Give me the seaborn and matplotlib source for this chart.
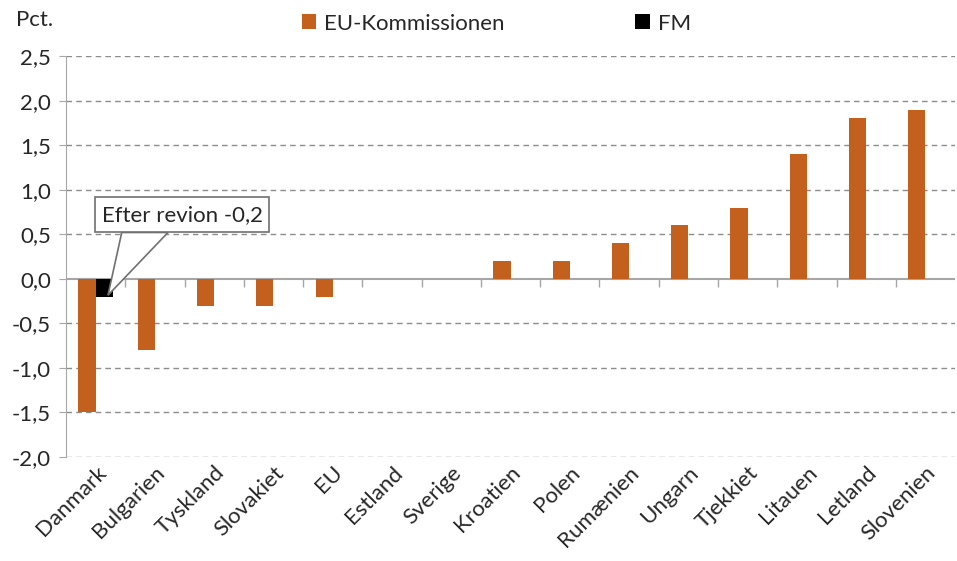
import pandas as pd
import numpy as np
import matplotlib
matplotlib.use("Agg")
import matplotlib.pyplot as plt
from matplotlib.patches import Polygon, Rectangle
import seaborn as sns

# ---------------- Data ----------------
countries = ["Danmark", "Bulgarien", "Tyskland", "Slovakiet", "EU", "Estland", "Sverige",
             "Kroatien", "Polen", "Rumænien", "Ungarn", "Tjekkiet", "Litauen", "Letland", "Slovenien"]
eu_komm = [-1.5, -0.8, -0.3, -0.3, -0.2, 0.0, 0.0, 0.2, 0.2, 0.4, 0.6, 0.8, 1.4, 1.8, 1.9]
fm = [-0.2] + [np.nan] * 14
series_names = ["EU-Kommissionen", "FM"]
yticks = [-2.0, -1.5, -1.0, -0.5, 0.0, 0.5, 1.0, 1.5, 2.0, 2.5]

df = pd.DataFrame({
    "Land": countries * 2,
    "Serie": [series_names[0]] * len(countries) + [series_names[1]] * len(countries),
    "Pct": eu_komm + fm,
})

# ---------------- Plot ----------------
sns.set_style("white")
plt.rcParams["font.family"] = ["Lato", "DejaVu Sans"]
fs = 16

fig = plt.figure(figsize=(9.57, 5.61), dpi=100)
ax = fig.add_axes([0.069, 0.1854, 0.929, 0.7146])

orange = "#C4601D"
sns.barplot(data=df, x="Land", y="Pct", hue="Serie", palette=[orange, "black"],
            width=0.58, dodge=True, gap=0, ax=ax, legend=True, saturation=1,
            linewidth=0, edgecolor="none")

ax.set_ylim(-2.0, 2.5)
ax.set_xlim(-0.5, len(countries) - 0.5)
ax.set_yticks(yticks)
ax.set_yticklabels([f"{v:.1f}".replace(".", ",") for v in yticks], fontsize=fs)
ax.set_xlabel("")
ax.set_ylabel("")

# grid lines
for v in yticks:
    if v != 0:
        ax.axhline(v, color="#8c8c8c", lw=1, ls=(0, (4, 3)), zorder=0)
ax.axhline(0, color="#a6a6a6", lw=1.5, zorder=0.5)

for s in ["top", "right", "bottom"]:
    ax.spines[s].set_visible(False)
ax.spines["left"].set_color("#a6a6a6")
ax.tick_params(axis="y", length=5, color="#a6a6a6", direction="out", pad=6, left=True)
ax.tick_params(axis="x", length=0, pad=4)
plt.setp(ax.get_xticklabels(), rotation=45, ha="right", rotation_mode="anchor", fontsize=fs)

# tick marks on the zero line at category boundaries
sec = ax.secondary_xaxis(2.0 / 4.5)
sec.set_xticks(np.arange(0.5, len(countries) - 0.5, 1.0))
sec.set_xticklabels([])
sec.tick_params(axis="x", bottom=True, length=6, width=1, color="#a6a6a6", direction="out")
sec.spines["bottom"].set_visible(False)

# legend
handles, labels = ax.get_legend_handles_labels()
ax.legend(handles, labels, loc="upper left", bbox_to_anchor=(0.265, 1.106), ncol=2,
          frameon=False, fontsize=fs, columnspacing=5.9, handlelength=0.65,
          handleheight=0.65, handletextpad=0.35, borderpad=0, borderaxespad=0)

fig.text(0.017, 0.964, "Pct.", fontsize=fs, va="center", ha="left")

# callout
ax.add_patch(Polygon([(0.44, 0.52), (0.207, -0.185), (1.22, 0.52)], closed=True,
                     fc="white", ec="#707070", lw=1.2, zorder=5))
ax.add_patch(Rectangle((-0.01, 0.52), 2.94, 0.395, fc="white", ec="#707070", lw=1.2, zorder=6))
ax.text(1.46, 0.715, "Efter revion -0,2", fontsize=fs, ha="center", va="center", zorder=7)

fig.savefig("out.png", dpi=100)
